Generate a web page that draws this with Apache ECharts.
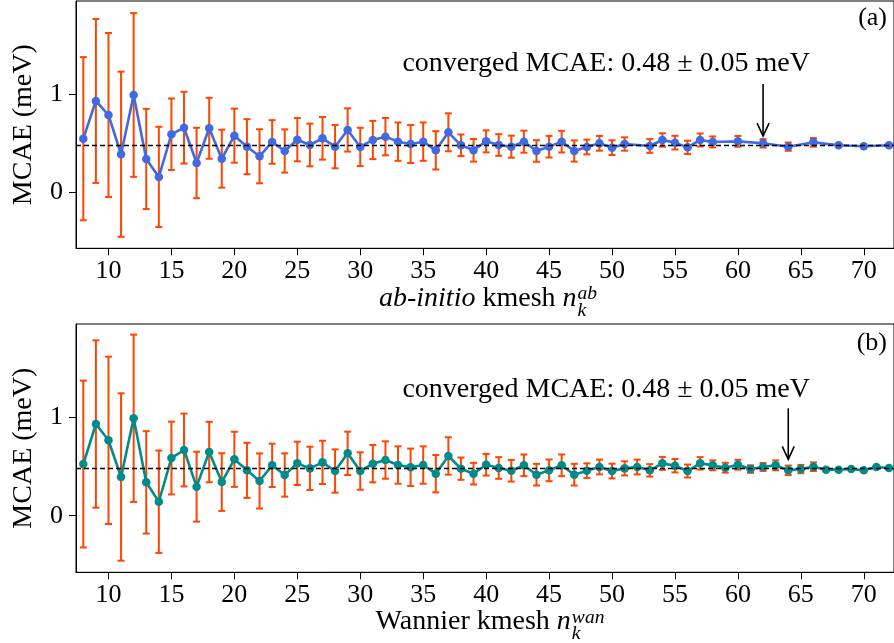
<!DOCTYPE html>
<html><head><meta charset="utf-8">
<script src="https://cdn.jsdelivr.net/npm/echarts@6/dist/echarts.min.js"></script>
<style>html,body{margin:0;padding:0;background:#fff}#c{width:894px;height:643px}</style>
</head><body><div id="c"></div>
<script>
// ---------- data ----------
const xTicks = [10,15,20,25,30,35,40,45,50,55,60,65,70];
const yTicks = [0,1];

const abK = [8,9,10,11,12,13,14,15,16,17,18,19,20,21,22,23,24,25,26,27,28,29,30,31,32,33,34,35,36,37,38,39,40,41,42,43,44,45,46,47,48,49,50,51,53,54,55,56,57,58,60,62,64,66,68,70,72];
const abMCAE = [0.545,0.929,0.786,0.387,0.99,0.339,0.156,0.59,0.657,0.298,0.651,0.342,0.576,0.464,0.366,0.512,0.42,0.535,0.481,0.549,0.464,0.634,0.461,0.532,0.566,0.515,0.491,0.515,0.427,0.61,0.478,0.427,0.518,0.481,0.464,0.515,0.42,0.464,0.515,0.42,0.461,0.498,0.454,0.491,0.471,0.532,0.505,0.457,0.532,0.512,0.518,0.498,0.464,0.508,0.478,0.468,0.478];
const abErr = [0.83,0.834,0.835,0.84,0.833,0.51,0.51,0.364,0.365,0.358,0.31,0.295,0.275,0.28,0.275,0.222,0.22,0.22,0.217,0.217,0.22,0.22,0.195,0.195,0.19,0.195,0.193,0.195,0.195,0.193,0.11,0.115,0.112,0.11,0.112,0.112,0.11,0.11,0.11,0.108,0.075,0.075,0.075,0.068,0.07,0.068,0.07,0.068,0.066,0.056,0.055,0.043,0.042,0.044,0,0,0];

const wanK = [8,9,10,11,12,13,14,15,16,17,18,19,20,21,22,23,24,25,26,27,28,29,30,31,32,33,34,35,36,37,38,39,40,41,42,43,44,45,46,47,48,49,50,51,52,53,54,55,56,57,58,59,60,61,62,63,64,65,66,67,68,69,70,71,72];
const wanMCAE = [0.525,0.932,0.766,0.393,0.99,0.339,0.142,0.586,0.668,0.295,0.647,0.342,0.573,0.461,0.353,0.512,0.414,0.532,0.481,0.542,0.454,0.634,0.454,0.529,0.566,0.515,0.492,0.515,0.427,0.607,0.478,0.427,0.518,0.485,0.457,0.512,0.417,0.461,0.512,0.417,0.457,0.495,0.454,0.481,0.495,0.461,0.532,0.508,0.454,0.532,0.512,0.488,0.518,0.474,0.495,0.512,0.461,0.474,0.498,0.468,0.468,0.474,0.461,0.495,0.485];
const wanErr = [0.848,0.85,0.85,0.85,0.85,0.52,0.52,0.37,0.37,0.355,0.307,0.293,0.28,0.28,0.28,0.22,0.22,0.22,0.22,0.22,0.22,0.22,0.19,0.19,0.19,0.19,0.19,0.19,0.19,0.19,0.113,0.11,0.11,0.11,0.11,0.11,0.11,0.11,0.11,0.11,0.075,0.075,0.075,0.072,0.075,0.063,0.066,0.068,0.066,0.063,0.05,0.05,0.05,0.038,0.04,0.05,0.048,0.042,0.044,0,0,0,0,0,0];

const convergedMCAE = 0.48;
const convergedLabel = 'converged MCAE: 0.48 \u00b1 0.05 meV';
const abConvergedK = 62;
const wanConvergedK = 64;

// ---------- styling / layout ----------
const FONT = 'Liberation Serif';
const FS_TICK = 26;
const FS_LABEL = 28;
const FS_ANN = 28;
const ERR_COLOR = '#FF4500';
const AB_COLOR = '#4169E1';
const WAN_COLOR = '#008B8B';

const chart = echarts.init(document.getElementById('c'), null, {renderer:'canvas'});

function errItem(params, api){
  const x = api.value(0), y = api.value(1), e = api.value(2);
  if (!(e > 0)) return null;
  const p1 = api.coord([x, y + e]), p2 = api.coord([x, y - e]);
  const cw = 3.5;
  const st = {stroke: ERR_COLOR, lineWidth: 2};
  return {type:'group', children:[
    {type:'line', shape:{x1:p1[0], y1:p1[1], x2:p2[0], y2:p2[1]}, style:st},
    {type:'line', shape:{x1:p1[0]-cw, y1:p1[1], x2:p1[0]+cw, y2:p1[1]}, style:st},
    {type:'line', shape:{x1:p2[0]-cw, y1:p2[1], x2:p2[0]+cw, y2:p2[1]}, style:st}
  ]};
}

function annItem(params, api){
  const t = api.coord([api.value(0), api.value(1)]);
  const a0 = api.coord([api.value(2), api.value(3)]);
  const a1 = api.coord([api.value(2), api.value(4)]);
  const st = {stroke:'#000', lineWidth:1.6, fill:null};
  return {type:'group', children:[
    {type:'text', x:t[0], y:t[1], style:{text:convergedLabel, fontFamily:FONT, fontSize:FS_ANN, fill:'#000', align:'left', verticalAlign:'middle'}},
    {type:'line', shape:{x1:a0[0], y1:a0[1], x2:a1[0], y2:a1[1]}, style:st},
    {type:'polyline', shape:{points:[[a1[0]-6, a1[1]-13],[a1[0], a1[1]],[a1[0]+6, a1[1]-13]]}, style:st}
  ]};
}

function xAxisCfg(idx){
  return {type:'value', gridIndex:idx, min:7.42, max:72.40,
    axisLine:{show:true, onZero:false, lineStyle:{color:'#000', width:1}},
    splitLine:{show:false},
    axisTick:{show:true, length:7, customValues:xTicks, lineStyle:{color:'#000', width:1}},
    axisLabel:{customValues:xTicks, color:'#000', fontFamily:FONT, fontSize:FS_TICK, margin:10}};
}
function yAxisCfg(idx, mn, mx){
  return {type:'value', gridIndex:idx, min:mn, max:mx,
    name:'MCAE (meV)', nameLocation:'middle', nameGap:38,
    nameTextStyle:{color:'#000', fontFamily:FONT, fontSize:FS_LABEL},
    axisLine:{show:true, onZero:false, lineStyle:{color:'#000', width:1}},
    splitLine:{show:false},
    axisTick:{show:true, length:7, customValues:yTicks, lineStyle:{color:'#000', width:1}},
    axisLabel:{customValues:yTicks, color:'#000', fontFamily:FONT, fontSize:FS_TICK, margin:13}};
}

function panelSeries(idx, K, V, E, color, arrowK, textPos, arrowTop, arrowTip){
  return [
    {type:'custom', xAxisIndex:idx, yAxisIndex:idx, renderItem:errItem,
      data:K.map((k,i)=>[k, V[i], E[i]]), encode:{x:0, y:1}, z:2,
      markLine:{silent:true, symbol:'none', label:{show:false},
        lineStyle:{type:[5,3], color:'#000', width:1.3}, data:[{yAxis:convergedMCAE}]}},
    {type:'line', xAxisIndex:idx, yAxisIndex:idx, data:K.map((k,i)=>[k, V[i]]),
      symbol:'circle', symbolSize:8.5, showSymbol:true,
      lineStyle:{color:color, width:2.6}, itemStyle:{color:color}, z:3},
    {type:'custom', xAxisIndex:idx, yAxisIndex:idx, renderItem:annItem, z:4,
      data:[[textPos[0], textPos[1], arrowK, arrowTop, arrowTip]], encode:{x:[0,2], y:[1,3,4]}}
  ];
}

// axis name builders (text with sub/superscript)
const cv = document.createElement('canvas').getContext('2d');
function w(text, italic, size){ cv.font = (italic?'italic ':'') + size + 'px "' + FONT + '"'; return cv.measureText(text).width; }
function axisName(pieces, sub, sup, center, baseline){
  const FS = FS_LABEL, SS = 19.5;
  let total = 0;
  pieces.forEach(p=>{ p.w = w(p.t, p.i, FS); total += p.w; });
  const ws = Math.max(w(sub, true, SS), w(sup, true, SS)) + 1;
  total += ws;
  let x = center - total/2;
  const els = [];
  const mid = baseline - 0.32*FS;
  pieces.forEach(p=>{
    els.push({type:'text', x:x, y:mid, style:{text:p.t, fontFamily:FONT, fontSize:FS, fontStyle:p.i?'italic':'normal', fill:'#000', align:'left', verticalAlign:'middle'}});
    x += p.w;
  });
  x += 1;
  els.push({type:'text', x:x, y:baseline + 9.4 - 0.32*SS, style:{text:sub, fontFamily:FONT, fontSize:SS, fontStyle:'italic', fill:'#000', align:'left', verticalAlign:'middle'}});
  els.push({type:'text', x:x, y:baseline - 6.8 - 0.32*SS, style:{text:sup, fontFamily:FONT, fontSize:SS, fontStyle:'italic', fill:'#000', align:'left', verticalAlign:'middle'}});
  return els;
}

const graphics = [].concat(
  axisName([{t:'ab-initio', i:true},{t:' kmesh ', i:false},{t:'n', i:true}], 'k', 'ab', 488, 307.3),
  axisName([{t:'Wannier kmesh ', i:false},{t:'n', i:true}], 'k', 'wan', 490, 630.5),
  [{type:'text', x:887, y:18, style:{text:'(a)', fontFamily:FONT, fontSize:FS_TICK, fill:'#000', align:'right', verticalAlign:'middle'}},
   {type:'text', x:887, y:343, style:{text:'(b)', fontFamily:FONT, fontSize:FS_TICK, fill:'#000', align:'right', verticalAlign:'middle'}}]
);

chart.setOption({
  animation:false,
  backgroundColor:'#fff',
  grid:[
    {left:76, top:1, right:-6, height:247.3, show:true, borderColor:'#000', borderWidth:1, backgroundColor:'transparent'},
    {left:76, top:324, right:-6, height:248.3, show:true, borderColor:'#000', borderWidth:1, backgroundColor:'transparent'}
  ],
  xAxis:[xAxisCfg(0), xAxisCfg(1)],
  yAxis:[yAxisCfg(0, -0.57, 1.946), yAxisCfg(1, -0.575, 1.948)],
  series:[].concat(
    panelSeries(0, abK, abMCAE, abErr, AB_COLOR, abConvergedK, [33.35, 1.305], 1.102, 0.572),
    panelSeries(1, wanK, wanMCAE, wanErr, WAN_COLOR, wanConvergedK, [33.35, 1.285], 1.091, 0.573)
  ),
  graphic:graphics
});
</script></body></html>
